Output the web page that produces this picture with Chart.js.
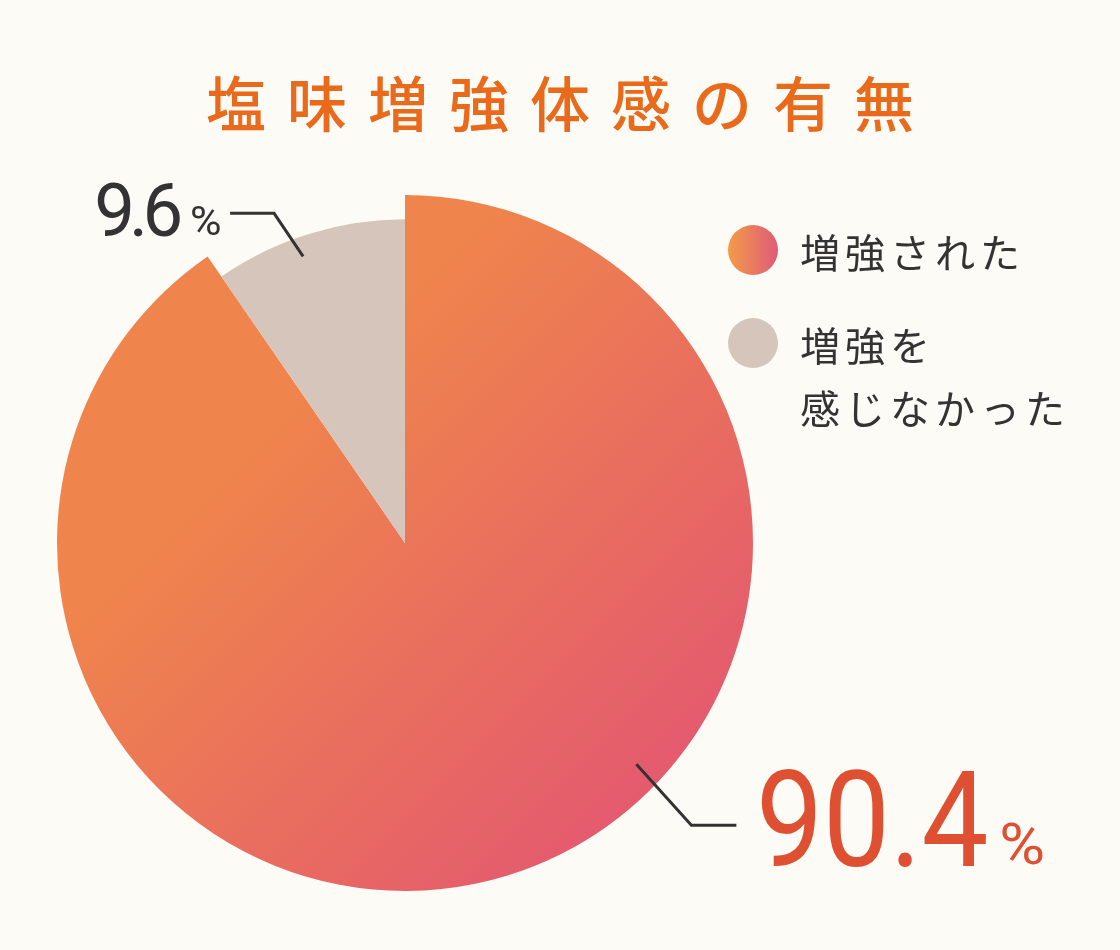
<!DOCTYPE html>
<html lang="ja">
<head>
<meta charset="utf-8">
<title>塩味増強体感の有無</title>
<script src="https://cdn.jsdelivr.net/npm/chart.js@4.4.1/dist/chart.umd.min.js"></script>
<style>
	html, body { margin: 0; padding: 0; background: #fcfbf6; }
	#caixa { position: relative; width: 1120px; height: 950px; }
</style>
</head>
<body>
<div id="caixa"><canvas id="graficoSal"></canvas></div>
<script>
var titulo = '塩味増強体感の有無';
var categorias = ['増強された', '増強を感じなかった'];
var linhasLegenda = [['増強された'], ['増強を', '感じなかった']];
var valores = [90.4, 9.6];

var FONTE_JP = '"Noto Sans CJK JP", "Noto Sans", sans-serif';
var FONTE_NUM = 'Roboto, "Noto Sans", sans-serif';
var COR_TEXTO = '#333333';
var COR_CINZA = '#d6c5ba';
var RAIO_CINZA = 0.93; // fatia menor fica um pouco para dentro

function gradienteLaranja(chart) {
	var area = chart.chartArea;
	if (!area) return '#ef844c';
	var w = area.right - area.left, h = area.bottom - area.top;
	var g = chart.ctx.createLinearGradient(area.left + w * 0.42, area.top + h * 0.22,
		area.left + w * 0.95, area.top + h * 0.75);
	g.addColorStop(0, '#ef844c');
	g.addColorStop(1, '#e45b6e');
	return g;
}

// desenha texto ajustando a largura visivel
function textoAjustado(ctx, texto, x, base, fonte, largura, espaco) {
	ctx.save();
	ctx.font = fonte;
	ctx.letterSpacing = (espaco || 0) + 'px';
	ctx.textAlign = 'left';
	ctx.textBaseline = 'alphabetic';
	var m = ctx.measureText(texto);
	var tinta = m.actualBoundingBoxRight + m.actualBoundingBoxLeft;
	var esc = largura / tinta;
	ctx.translate(x, base);
	ctx.scale(esc, 1);
	ctx.fillText(texto, m.actualBoundingBoxLeft, 0);
	ctx.restore();
}

function linha(ctx, pts) {
	ctx.save();
	ctx.strokeStyle = COR_TEXTO;
	ctx.lineWidth = 3;
	ctx.lineJoin = 'miter';
	ctx.beginPath();
	ctx.moveTo(pts[0][0], pts[0][1]);
	for (var i = 1; i < pts.length; i++) ctx.lineTo(pts[i][0], pts[i][1]);
	ctx.stroke();
	ctx.restore();
}

var decoracao = {
	id: 'decoracao',
	beforeDatasetsDraw: function(chart) {
		var arco = chart.getDatasetMeta(0).data[1];
		if (arco && !arco._reduzido) {
			arco.outerRadius = arco.outerRadius * RAIO_CINZA;
			arco._reduzido = true;
		}
	},
	afterDraw: function(chart) {
		var ctx = chart.ctx;
		var meta = chart.getDatasetMeta(0);
		var a0 = meta.data[0], a1 = meta.data[1];

		// titulo, letra por letra
		ctx.save();
		ctx.fillStyle = '#e96a1a';
		ctx.font = '500 60px ' + FONTE_JP;
		ctx.textAlign = 'center';
		ctx.textBaseline = 'middle';
		for (var i = 0; i < titulo.length; i++) {
			ctx.fillText(titulo[i], 236 + i * 81, 104);
		}
		ctx.restore();

		// legenda
		var ys = [250, 343];
		ctx.save();
		for (var k = 0; k < categorias.length; k++) {
			var cx = 753, cy = ys[k];
			if (k === 0) {
				var g = ctx.createLinearGradient(cx - 25, 0, cx + 25, 0);
				g.addColorStop(0, '#f39b48');
				g.addColorStop(1, '#e05a78');
				ctx.fillStyle = g;
			} else {
				ctx.fillStyle = COR_CINZA;
			}
			ctx.beginPath();
			ctx.arc(cx, cy, 25, 0, Math.PI * 2);
			ctx.fill();

			ctx.fillStyle = COR_TEXTO;
			ctx.font = '400 40px ' + FONTE_JP;
			ctx.letterSpacing = '5px';
			ctx.textAlign = 'left';
			ctx.textBaseline = 'middle';
			linhasLegenda[k].forEach(function(t, j) {
				ctx.fillText(t, 800, cy + 3 + j * 63);
			});
		}
		ctx.restore();

		// rotulo da fatia grande
		var ang0 = 0.763;
		var p0x = a0.x + Math.cos(ang0) * a0.outerRadius * 0.92;
		var p0y = a0.y + Math.sin(ang0) * a0.outerRadius * 0.92;
		linha(ctx, [[p0x, p0y], [p0x + 55, p0y + 61], [p0x + 100, p0y + 61]]);
		ctx.fillStyle = '#de5031';
		textoAjustado(ctx, valores[0].toFixed(1), p0x + 125, p0y + 102, '400 134px ' + FONTE_NUM, 225);
		textoAjustado(ctx, '%', p0x + 365, p0y + 100, '400 58px ' + FONTE_NUM, 41);

		// rotulo da fatia pequena
		var ang1 = (a1.startAngle + a1.endAngle) / 2 - 0.04;
		var p1x = a1.x + Math.cos(ang1) * a1.outerRadius * 0.94;
		var p1y = a1.y + Math.sin(ang1) * a1.outerRadius * 0.94;
		linha(ctx, [[p1x, p1y], [p1x - 29, p1y - 43], [p1x - 73, p1y - 43]]);
		ctx.fillStyle = COR_TEXTO;
		textoAjustado(ctx, valores[1].toFixed(1), p1x - 206, p1y - 20, '400 75px ' + FONTE_NUM, 83, -6);
		textoAjustado(ctx, '%', p1x - 111, p1y - 21, '400 40px ' + FONTE_NUM, 28);
	}
};

new Chart(document.getElementById('graficoSal').getContext('2d'), {
	type: 'pie',
	data: {
		labels: categorias,
		datasets: [{
			data: valores,
			backgroundColor: function(c) {
				return c.dataIndex === 0 ? gradienteLaranja(c.chart) : COR_CINZA;
			},
			borderWidth: 0,
			hoverOffset: 0
		}]
	},
	options: {
		responsive: true,
		maintainAspectRatio: false,
		animation: false,
		events: [],
		layout: { padding: { left: 57, right: 367, top: 195, bottom: 59 } },
		plugins: {
			legend: { display: false },
			title: { display: false },
			tooltip: { enabled: false }
		}
	},
	plugins: [decoracao]
});
</script>
</body>
</html>
